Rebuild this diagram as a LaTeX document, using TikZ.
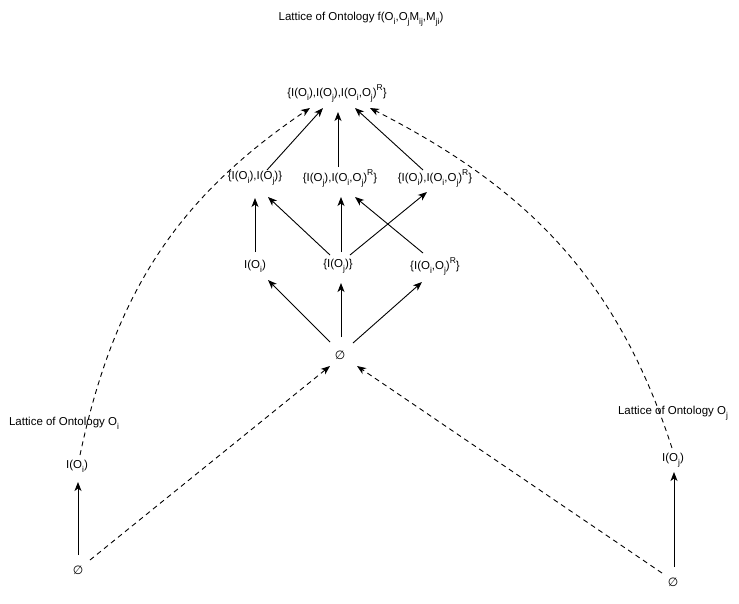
\documentclass[tikz,border=0pt]{standalone}
\usepackage{fontspec}
\setmainfont{Liberation Sans}
\newfontfamily\symf{DejaVu Sans}
\usetikzlibrary{arrows.meta}
\newcommand\sbs[1]{\raisebox{-0.32em}{\fontsize{8.5}{9}\selectfont #1}}
\newcommand\sps[1]{\raisebox{0.55em}{\fontsize{8.5}{9}\selectfont #1}}
\newcommand\nullset{{\symf\itshape\fontsize{12}{13}\selectfont ∅}}
\begin{document}
\begin{tikzpicture}[x=1pt,y=-1pt,
  lbl/.style={inner sep=0pt, font=\fontsize{11.5}{13}\selectfont},
  arr/.style={line width=0.9pt, -{Stealth[length=9pt,width=7pt,inset=2.5pt]}},
  darr/.style={arr, dash pattern=on 5pt off 4pt}]
\useasboundingbox (0,0) rectangle (739,603);

% central lattice
\node[lbl] (title) at (361,19) {Lattice of Ontology f(O\sbs{i},O\sbs{j}M\sbs{ij},M\sbs{ji})};
\node[lbl] (top) at (337,93) {\{I(O\sbs{i}),I(O\sbs{j}),I(O\sbs{i},O\sbs{j})\sps{R}\}};
\node[lbl] (l2a) at (255,178) {\{I(O\sbs{i}),I(O\sbs{j})\}};
\node[lbl] (l2b) at (340,178) {\{I(O\sbs{j}),I(O\sbs{i},O\sbs{j})\sps{R}\}};
\node[lbl] (l2c) at (435,178) {\{I(O\sbs{i}),I(O\sbs{i},O\sbs{j})\sps{R}\}};
\node[lbl] (l3a) at (255,266) {I(O\sbs{i})};
\node[lbl] (l3b) at (338,266) {\{I(O\sbs{j})\}};
\node[lbl] (l3c) at (435,266) {\{I(O\sbs{i},O\sbs{j})\sps{R}\}};
\node[lbl] (e0) at (340,355) {\nullset};

% left lattice
\node[lbl] (lblI) at (64,423) {Lattice of Ontology O\sbs{i}};
\node[lbl] (nI) at (77,466) {I(O\sbs{i})};
\node[lbl] (eI) at (78,570) {\nullset};

% right lattice
\node[lbl] (lblJ) at (673,413) {Lattice of Ontology O\sbs{j}};
\node[lbl] (nJ) at (673,460) {I(O\sbs{j})};
\node[lbl] (eJ) at (673,582) {\nullset};

% level 3 -> level 2
\draw[arr] ([shift={(0,-14)}]l3a.center) -- ([shift={(0,20)}]l2a.center);
\draw[arr] ([shift={(-8,-11)}]l3b.center) -- ([shift={(13,19)}]l2a.center);
\draw[arr] ([shift={(3,-14)}]l3b.center) -- ([shift={(1,19)}]l2b.center);
\draw[arr] ([shift={(12,-11)}]l3b.center) -- ([shift={(-8,14)}]l2c.center);
\draw[arr] ([shift={(-12,-13)}]l3c.center) -- ([shift={(15,19)}]l2b.center);

% level 2 -> top
\draw[arr] ([shift={(12,-8)}]l2a.center) -- ([shift={(-14,15)}]top.center);
\draw[arr] ([shift={(-2,-11)}]l2b.center) -- ([shift={(1,19)}]top.center);
\draw[arr] ([shift={(-12,-8)}]l2c.center) -- ([shift={(18,15)}]top.center);

% empty set -> level 3
\draw[arr] ([shift={(-10,-13)}]e0.center) -- ([shift={(13,14)}]l3a.center);
\draw[arr] ([shift={(1,-18)}]e0.center) -- ([shift={(3,17)}]l3b.center);
\draw[arr] ([shift={(13,-12)}]e0.center) -- ([shift={(-13,16)}]l3c.center);

% side lattices
\draw[arr] ([shift={(0,-15)}]eI.center) -- ([shift={(1,16)}]nI.center);
\draw[arr] ([shift={(1,-15)}]eJ.center) -- ([shift={(1,12)}]nJ.center);

% embeddings into the merged lattice
\draw[darr] ([shift={(12,-10)}]eI.center) -- ([shift={(-10,11)}]e0.center);
\draw[darr] ([shift={(-11,-9)}]eJ.center) -- ([shift={(17,11)}]e0.center);
\draw[darr] ([shift={(3,-11)}]nI.center) to[out=78,in=214] ([shift={(-27,15)}]top.center);
\draw[darr] ([shift={(-1,-12)}]nJ.center) to[out=108,in=-27] ([shift={(33,15)}]top.center);
\end{tikzpicture}
\end{document}
